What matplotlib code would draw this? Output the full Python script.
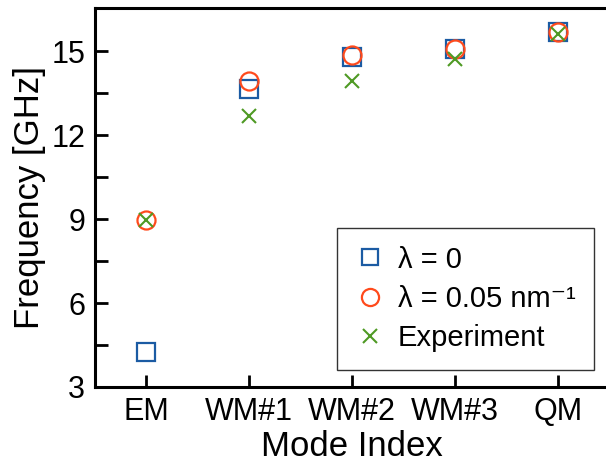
import matplotlib
matplotlib.use('Agg')
import matplotlib.pyplot as plt
import numpy as np

plt.rcParams['font.family'] = ['Liberation Sans', 'DejaVu Sans']

# mode labels and frequencies (GHz)
modes = ['EM', 'WM#1', 'WM#2', 'WM#3', 'QM']
freq_lambda0 = [4.25, 13.64, 14.78, 15.07, 15.68]
freq_lambda005 = [8.95, 13.93, 14.86, 15.07, 15.68]
freq_exp = [8.95, 12.68, 13.93, 14.72, 15.60]

x = np.arange(len(modes))

fig = plt.figure(figsize=(6.06, 4.70), dpi=100)
ax = fig.add_axes([95/606, 83/470, 514/606, 379/470])

ax.plot(x, freq_lambda0, linestyle='none', marker='s', markersize=12.5,
        markerfacecolor='none', markeredgecolor='#1b5ba3', markeredgewidth=1.6,
        label='λ = 0')
ax.plot(x, freq_lambda005, linestyle='none', marker='o', markersize=13,
        markerfacecolor='none', markeredgecolor='#ff4a1c', markeredgewidth=1.6,
        label='λ = 0.05 nm⁻¹')
ax.plot(x, freq_exp, linestyle='none', marker='x', markersize=10,
        markeredgecolor='#4f9a24', markeredgewidth=1.5,
        label='Experiment')

ax.set_xlim(-0.5, 4.5)
ax.set_ylim(3, 16.54)
ax.set_xticks(x)
ax.set_xticklabels(modes)
ax.set_yticks([3, 6, 9, 12, 15])
ax.set_yticks([4.5, 7.5, 10.5, 13.5], minor=True)

ax.tick_params(axis='both', which='major', direction='in', length=9, width=2,
               labelsize=22, pad=7)
ax.tick_params(axis='y', which='minor', direction='in', length=9, width=2)
for s in ['left', 'bottom', 'top']:
    ax.spines[s].set_linewidth(2.2)
ax.spines['right'].set_visible(False)

ax.set_xlabel('Mode Index', fontsize=25, labelpad=2)
ax.set_ylabel('Frequency [GHz]', fontsize=25, labelpad=4)

leg = ax.legend(loc='lower right', fontsize=21, frameon=True, fancybox=False,
                edgecolor='black', handletextpad=0.45, borderpad=0.62,
                labelspacing=0.38, handlelength=1.0, borderaxespad=0,
                bbox_to_anchor=(0.97, 0.045))
leg.get_frame().set_linewidth(1.0)
for h in leg.legend_handles:
    h.set_markersize(h.get_markersize() * 0.95)

fig.savefig('out.png', dpi=100)
